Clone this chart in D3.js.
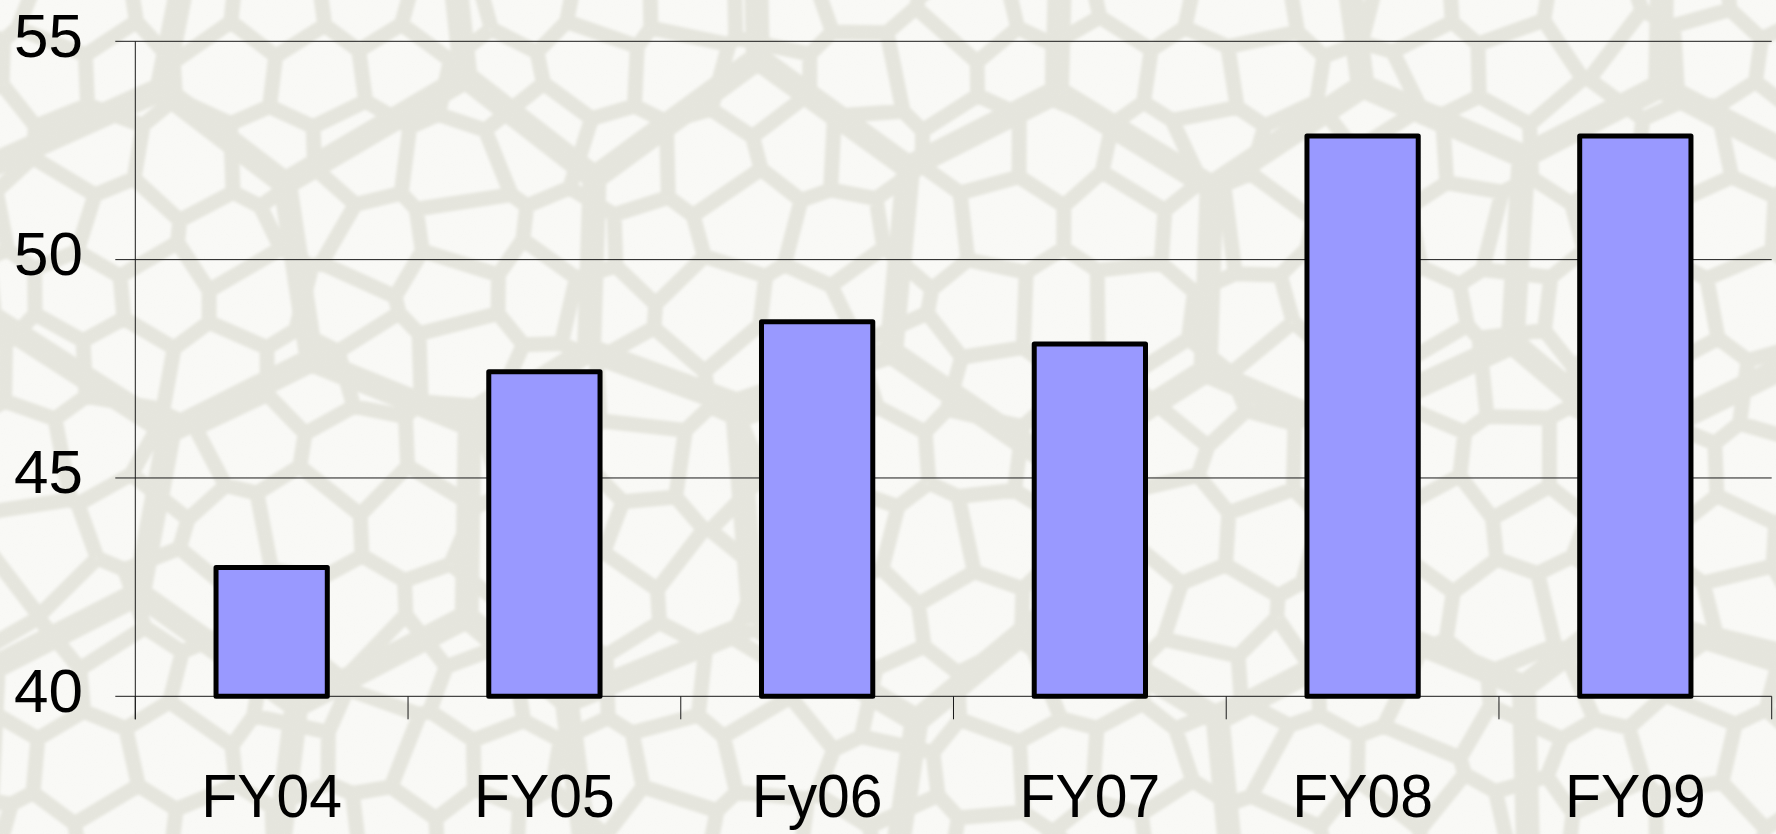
<!DOCTYPE html>
<html>
<head>
<meta charset="utf-8">
<script src="https://cdn.jsdelivr.net/npm/d3@7/dist/d3.min.js"></script>
<style>
  html, body { margin: 0; padding: 0; background: #f9f9f6; overflow: hidden; }
  svg { display: block; }
</style>
</head>
<body>
<svg id="chart" width="1776" height="834"></svg>
<script>
// Fiscal-year values
const categories = ["FY04", "FY05", "Fy06", "FY07", "FY08", "FY09"];
const values = [42.95, 47.43, 48.58, 48.07, 52.83, 52.83];
const yTicks = [40, 45, 50, 55];

const W = 1776, H = 834;
const plot = { left: 135.3, right: 1771.7, top: 41.3, bottom: 696.3 };

const svg = d3.select("#chart");

// ---- decorative lattice backdrop ----
const defs = svg.append("defs");
defs.append("filter").attr("id", "soft")
  .append("feGaussianBlur").attr("stdDeviation", 1.8);
const grain = defs.append("filter").attr("id", "grain")
  .attr("x", 0).attr("y", 0).attr("width", "100%").attr("height", "100%");
grain.append("feTurbulence").attr("type", "fractalNoise")
  .attr("baseFrequency", 0.9).attr("numOctaves", 2).attr("seed", 3);
grain.append("feColorMatrix").attr("type", "matrix")
  .attr("values", "0 0 0 0 0.86  0 0 0 0 0.86  0 0 0 0 0.82  0 0 0 -1.1 0.55");

svg.append("rect").attr("width", W).attr("height", H).attr("fill", "#f9f9f6");

// lattice cells: Voronoi meshes over gently perturbed hex grids
const hash = (a, b) => {
  const v = Math.sin(a * 127.1 + b * 311.7) * 43758.5453;
  return v - Math.floor(v);
};
function mesh(gap, jitter, salt) {
  const pts = [];
  const rowGap = gap * Math.sqrt(3) / 2;
  for (let j = -2; j * rowGap < H + 2 * rowGap; j++) {
    for (let i = -2; i * gap < W + 2 * gap; i++) {
      pts.push([
        i * gap + (j % 2 ? gap / 2 : 0) + (hash(i + salt, j) - 0.5) * jitter,
        j * rowGap + (hash(j + 17, i + 5 + salt) - 0.5) * jitter
      ]);
    }
  }
  return d3.Delaunay.from(pts).voronoi([-300, -300, W + 300, H + 300]);
}

const bgLayer = svg.append("g").attr("filter", "url(#soft)")
  .attr("fill", "none").attr("stroke", "#e5e5dd").attr("stroke-linejoin", "round");
bgLayer.append("path").attr("d", mesh(88, 46, 0).render()).attr("stroke-width", 15);
bgLayer.append("path").attr("d", mesh(300, 90, 41).render()).attr("stroke-width", 24);

svg.append("rect").attr("width", W).attr("height", H).attr("filter", "url(#grain)").attr("opacity", 0.4);

// ---- scales ----
const x = d3.scaleBand()
  .domain(categories)
  .range([plot.left, plot.right])
  .paddingInner(0.592)
  .paddingOuter(0.296);

const y = d3.scaleLinear()
  .domain([40, 55])
  .range([plot.bottom, plot.top]);

const font = "'Liberation Sans', Arial, sans-serif";

// ---- gridlines (also form the left tick marks) ----
svg.append("g").selectAll("line")
  .data(yTicks)
  .join("line")
  .attr("x1", plot.left - 20).attr("x2", plot.right)
  .attr("y1", d => y(d)).attr("y2", d => y(d))
  .attr("stroke", "#1a1a1a").attr("stroke-width", 1);

// y axis line
svg.append("line")
  .attr("x1", plot.left).attr("x2", plot.left)
  .attr("y1", y(55)).attr("y2", plot.bottom + 23)
  .attr("stroke", "#1a1a1a").attr("stroke-width", 1);

// category boundary ticks below the x axis
const step = x.step();
svg.append("g").selectAll("line")
  .data(d3.range(categories.length + 1))
  .join("line")
  .attr("x1", i => plot.left + i * step).attr("x2", i => plot.left + i * step)
  .attr("y1", plot.bottom).attr("y2", plot.bottom + 23)
  .attr("stroke", "#1a1a1a").attr("stroke-width", 1);

// ---- bars ----
svg.append("g").selectAll("rect")
  .data(values)
  .join("rect")
  .attr("x", (d, i) => x(categories[i]))
  .attr("width", x.bandwidth())
  .attr("y", d => y(d))
  .attr("height", d => y(40) - y(d))
  .attr("fill", "#9999ff")
  .attr("stroke", "#000")
  .attr("stroke-width", 5)
  .attr("stroke-linejoin", "round");

// ---- labels ----
svg.append("g").selectAll("text")
  .data(yTicks)
  .join("text")
  .attr("x", 83)
  .attr("y", d => y(d) + 15.5)
  .attr("text-anchor", "end")
  .attr("font-family", font)
  .attr("font-size", 62)
  .attr("fill", "#000")
  .text(d => d);

svg.append("g").selectAll("text")
  .data(categories)
  .join("text")
  .attr("transform", d => `translate(${x(d) + x.bandwidth() / 2},817) scale(0.95,1)`)
  .attr("text-anchor", "middle")
  .attr("font-family", font)
  .attr("font-size", 62)
  .attr("fill", "#000")
  .text(d => d);
</script>
</body>
</html>
